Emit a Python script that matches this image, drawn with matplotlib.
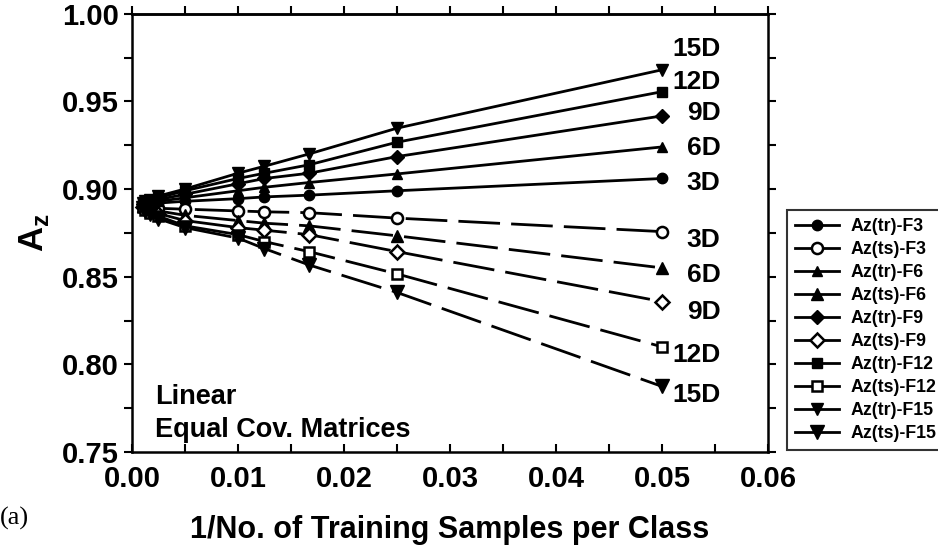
import matplotlib
matplotlib.use("Agg")
import matplotlib.pyplot as plt
from matplotlib.lines import Line2D

plt.rcParams['font.family'] = ['Liberation Sans', 'DejaVu Sans']
plt.rcParams['font.weight'] = 'bold'
plt.rcParams['mathtext.fontset'] = 'custom'
plt.rcParams['mathtext.bf'] = 'Liberation Sans:bold'
plt.rcParams['mathtext.rm'] = 'Liberation Sans:bold'
plt.rcParams['lines.scale_dashes'] = False

# 1 / number of training samples per class
x = [0.001, 0.00125, 0.00167, 0.0025, 0.005, 0.01, 0.0125, 0.0167, 0.025, 0.05]

tr_F3 = [0.891, 0.891, 0.8915, 0.892, 0.893, 0.8945, 0.8955, 0.8965, 0.899, 0.906]
tr_F6 = [0.891, 0.8915, 0.892, 0.893, 0.895, 0.899, 0.901, 0.9037, 0.9086, 0.924]
tr_F9 = [0.8915, 0.892, 0.893, 0.894, 0.897, 0.903, 0.906, 0.909, 0.9185, 0.9417]
tr_F12 = [0.892, 0.8925, 0.8935, 0.895, 0.899, 0.906, 0.909, 0.9138, 0.9267, 0.9555]
tr_F15 = [0.892, 0.893, 0.894, 0.896, 0.900, 0.909, 0.913, 0.920, 0.9347, 0.968]

ts_F3 = [0.891, 0.8905, 0.8895, 0.889, 0.8885, 0.8875, 0.887, 0.8865, 0.8834, 0.8757]
ts_F6 = [0.8905, 0.8895, 0.889, 0.8875, 0.885, 0.882, 0.8805, 0.879, 0.8733, 0.855]
ts_F9 = [0.890, 0.889, 0.888, 0.886, 0.882, 0.878, 0.8765, 0.874, 0.8643, 0.8358]
ts_F12 = [0.8895, 0.888, 0.8865, 0.8845, 0.879, 0.874, 0.870, 0.8643, 0.8516, 0.810]
ts_F15 = [0.889, 0.8875, 0.886, 0.883, 0.878, 0.872, 0.866, 0.8567, 0.841, 0.7874]

legend_labels = ['Az(tr)-F3', 'Az(ts)-F3', 'Az(tr)-F6', 'Az(ts)-F6', 'Az(tr)-F9',
                 'Az(ts)-F9', 'Az(tr)-F12', 'Az(ts)-F12', 'Az(tr)-F15', 'Az(ts)-F15']
tr_end_labels = ['3D', '6D', '9D', '12D', '15D']
tr_label_y = [0.9035, 0.9234, 0.9434, 0.961, 0.980]
ts_end_labels = ['3D', '6D', '9D', '12D', '15D']
ts_label_y = [0.871, 0.851, 0.830, 0.8055, 0.7828]

x_ticks = [0.00, 0.01, 0.02, 0.03, 0.04, 0.05, 0.06]
y_ticks = [0.75, 0.80, 0.85, 0.90, 0.95, 1.00]

fig = plt.figure(figsize=(9.38, 5.54), dpi=100)
ax = fig.add_axes([0.1407, 0.1841, 0.8188 - 0.1407, 0.9753 - 0.1841])

lw = 2.0
dash = (0, (30, 8))
series = [
    (tr_F3, dict(marker='o', ms=7.5, mfc='black', ls='-')),
    (ts_F3, dict(marker='o', ms=8, mfc='white', mew=1.8, ls=dash)),
    (tr_F6, dict(marker='^', ms=7.5, mfc='black', ls='-')),
    (ts_F6, dict(marker='^', ms=9, mfc='black', ls=dash)),
    (tr_F9, dict(marker='D', ms=7, mfc='black', ls='-')),
    (ts_F9, dict(marker='D', ms=7, mfc='white', mew=1.8, ls=dash)),
    (tr_F12, dict(marker='s', ms=7.5, mfc='black', ls='-')),
    (ts_F12, dict(marker='s', ms=7, mfc='white', mew=1.8, ls=dash)),
    (tr_F15, dict(marker='v', ms=8, mfc='black', ls='-')),
    (ts_F15, dict(marker='v', ms=9.5, mfc='black', ls=dash)),
]
handles = []
for (vals, st), lab in zip(series, legend_labels):
    ax.plot(x, vals, color='black', lw=lw, mec='black', clip_on=False, **st)
    hst = dict(st)
    hst['ls'] = '-'
    handles.append(Line2D([], [], color='black', lw=lw, mec='black', **hst))

for lab, yv in zip(tr_end_labels, tr_label_y):
    ax.text(0.0555, yv, lab, ha='right', va='center', fontsize=19, fontweight='bold')
for lab, yv in zip(ts_end_labels, ts_label_y):
    ax.text(0.0555, yv, lab, ha='right', va='center', fontsize=19, fontweight='bold')

ax.text(0.00215, 0.7815, 'Linear', ha='left', va='center', fontsize=19.5, fontweight='bold')
ax.text(0.00215, 0.7625, 'Equal Cov. Matrices', ha='left', va='center', fontsize=19.5,
        fontweight='bold')

ax.set_xlim(0, 0.06)
ax.set_ylim(0.75, 1.00)
ax.set_xticks(x_ticks)
ax.set_xticklabels([f'{v:.2f}' for v in x_ticks])
ax.set_yticks(y_ticks)
ax.set_yticklabels([f'{v:.2f}' for v in y_ticks])
ax.set_xticks([0.005 + 0.01 * i for i in range(6)], minor=True)
ax.set_yticks([0.775 + 0.05 * i for i in range(5)], minor=True)

for s in ax.spines.values():
    s.set_linewidth(1.8)

ax.tick_params(axis='x', which='both', direction='in', length=6, width=1.5,
               labelsize=21, pad=9)
ax.tick_params(axis='y', which='both', direction='out', length=5.5, width=1.5,
               labelsize=21, right=True, pad=4)

top = ax.secondary_xaxis('top')
top.set_xticks(x_ticks + [0.005 + 0.01 * i for i in range(6)])
top.tick_params(direction='out', length=5.5, width=1.5, labeltop=False)
top.spines['top'].set_linewidth(1.8)

ax.set_xlabel('1/No. of Training Samples per Class', fontsize=22, fontweight='bold',
              labelpad=16)
ax.set_ylabel(r'$\mathbf{A}_\mathbf{z}$', fontsize=25, labelpad=8)

fig.text(0.0, 0.065, '(a)', family=['Liberation Serif'], fontweight='normal',
         fontsize=19, ha='left', va='center')

leg = fig.legend(handles=handles, labels=legend_labels, loc='upper left',
                 bbox_to_anchor=(0.839, 0.621), borderaxespad=0, frameon=True,
                 fancybox=False, edgecolor='black',
                 handlelength=2.5, labelspacing=0.34, borderpad=0.45,
                 handletextpad=0.6, prop={'weight': 'bold', 'size': 12.8})
leg.get_frame().set_linewidth(1.5)

fig.savefig('out.png', dpi=100)
